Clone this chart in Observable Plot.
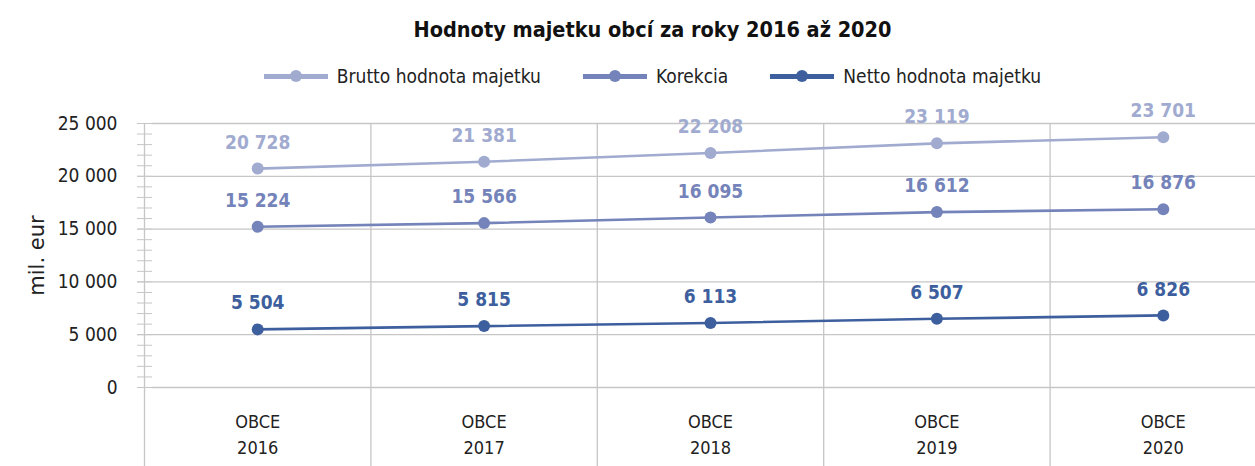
<!DOCTYPE html>
<html>
<head>
<meta charset="utf-8">
<script src="https://cdn.jsdelivr.net/npm/d3@7"></script>
<script src="https://cdn.jsdelivr.net/npm/@observablehq/plot@0.6"></script>
<style>
  body { margin: 0; background: #fff; font-family: "Liberation Sans Narrow", "DejaVu Sans Condensed", Roboto, sans-serif; }
  #title { height: 60px; line-height: 60px; text-align: center; font-size: 21.5px; font-weight: bold; color: #111; padding-left: 50px; }
  #legend { height: 32px; display: flex; justify-content: center; align-items: center; gap: 42px; padding-left: 50px; font-size: 19px; color: #222; }
  .item { display: flex; align-items: center; gap: 9px; }
  .sw { position: relative; width: 64px; height: 5px; }
  .sw i { position: absolute; left: 26px; top: -3.5px; width: 12px; height: 12px; border-radius: 50%; }
</style>
</head>
<body>
<div id="title">Hodnoty majetku obcí za roky 2016 až 2020</div>
<div id="legend"></div>
<div id="chart"></div>
<script>
const years = [2016, 2017, 2018, 2019, 2020];
const category = "OBCE";
const seriesNames = ["Brutto hodnota majetku", "Korekcia", "Netto hodnota majetku"];
const brutto = [20728, 21381, 22208, 23119, 23701];
const korekcia = [15224, 15566, 16095, 16612, 16876];
const netto = [5504, 5815, 6113, 6507, 6826];
const colors = ["#A1ABD0", "#7483B9", "#3E5F9E"];
const yTicks = [0, 5000, 10000, 15000, 20000, 25000];
const yMinor = d3.range(0, 25001, 1000);
const yTitle = "mil. eur";

const fmt = d3.formatLocale({decimal: ",", thousands: "\u00a0", grouping: [3], currency: ["", ""]}).format(",");

const seriesValues = [brutto, korekcia, netto];
const data = [];
seriesNames.forEach((s, i) => years.forEach((y, j) => data.push({series: s, year: y, value: seriesValues[i][j]})));
const bounds = [years[0] - 0.5, ...years.map(y => y + 0.5)];

// legend
const leg = document.getElementById("legend");
seriesNames.forEach((s, i) => {
  const it = document.createElement("div");
  it.className = "item";
  it.innerHTML = `<div class="sw" style="background:${colors[i]}"><i style="background:${colors[i]}"></i></div><span>${s}</span>`;
  leg.appendChild(it);
});

const W = 1255, H = 374;
const chart = Plot.plot({
  width: W,
  height: H,
  marginLeft: 152,
  marginRight: 0,
  marginTop: 31,
  marginBottom: 79,
  style: {fontFamily: '"Liberation Sans Narrow", "DejaVu Sans Condensed", Roboto, sans-serif', background: "#fff"},
  x: {domain: [bounds[0], bounds[bounds.length - 1]], range: [144, 1276], axis: null},
  y: {domain: [0, 25000]},
  color: {domain: seriesNames, range: colors},
  marks: [
    Plot.ruleY(yTicks, {stroke: "#c6c6c6", strokeWidth: 1.3}),
    Plot.ruleX(bounds, {stroke: "#c6c6c6", strokeWidth: 1.3, insetBottom: -79}),
    Plot.axisY({ticks: yMinor, tickSize: 15, tickFormat: () => "", stroke: "#c6c6c6", strokeOpacity: 1, label: null}),
    Plot.axisY({ticks: yTicks, tickSize: 15, tickPadding: 20, tickFormat: fmt, fontSize: 19, color: "#222", stroke: "#c6c6c6", strokeOpacity: 1, label: null}),
    Plot.text([yTitle], {frameAnchor: "left", textAnchor: "middle", lineAnchor: "middle", rotate: -90, dx: -115, fontSize: 21, fill: "#222", fontFamily: '"DejaVu Sans", sans-serif'}),
    Plot.lineY(data, {x: "year", y: "value", z: "series", stroke: "series", strokeWidth: 2.6}),
    Plot.dot(data, {x: "year", y: "value", fill: "series", r: 6}),
    Plot.text(data, {x: "year", y: "value", text: d => fmt(d.value), fill: "series", dy: -26, fontSize: 19, fontWeight: "bold"}),
    Plot.text(years, {x: d => d, frameAnchor: "bottom", text: d => `${category}\n${d}`, dy: 45, fontSize: 18, fill: "#222", lineHeight: 1.45, lineAnchor: "middle"})
  ]
});
document.getElementById("chart").appendChild(chart);
</script>
</body>
</html>
